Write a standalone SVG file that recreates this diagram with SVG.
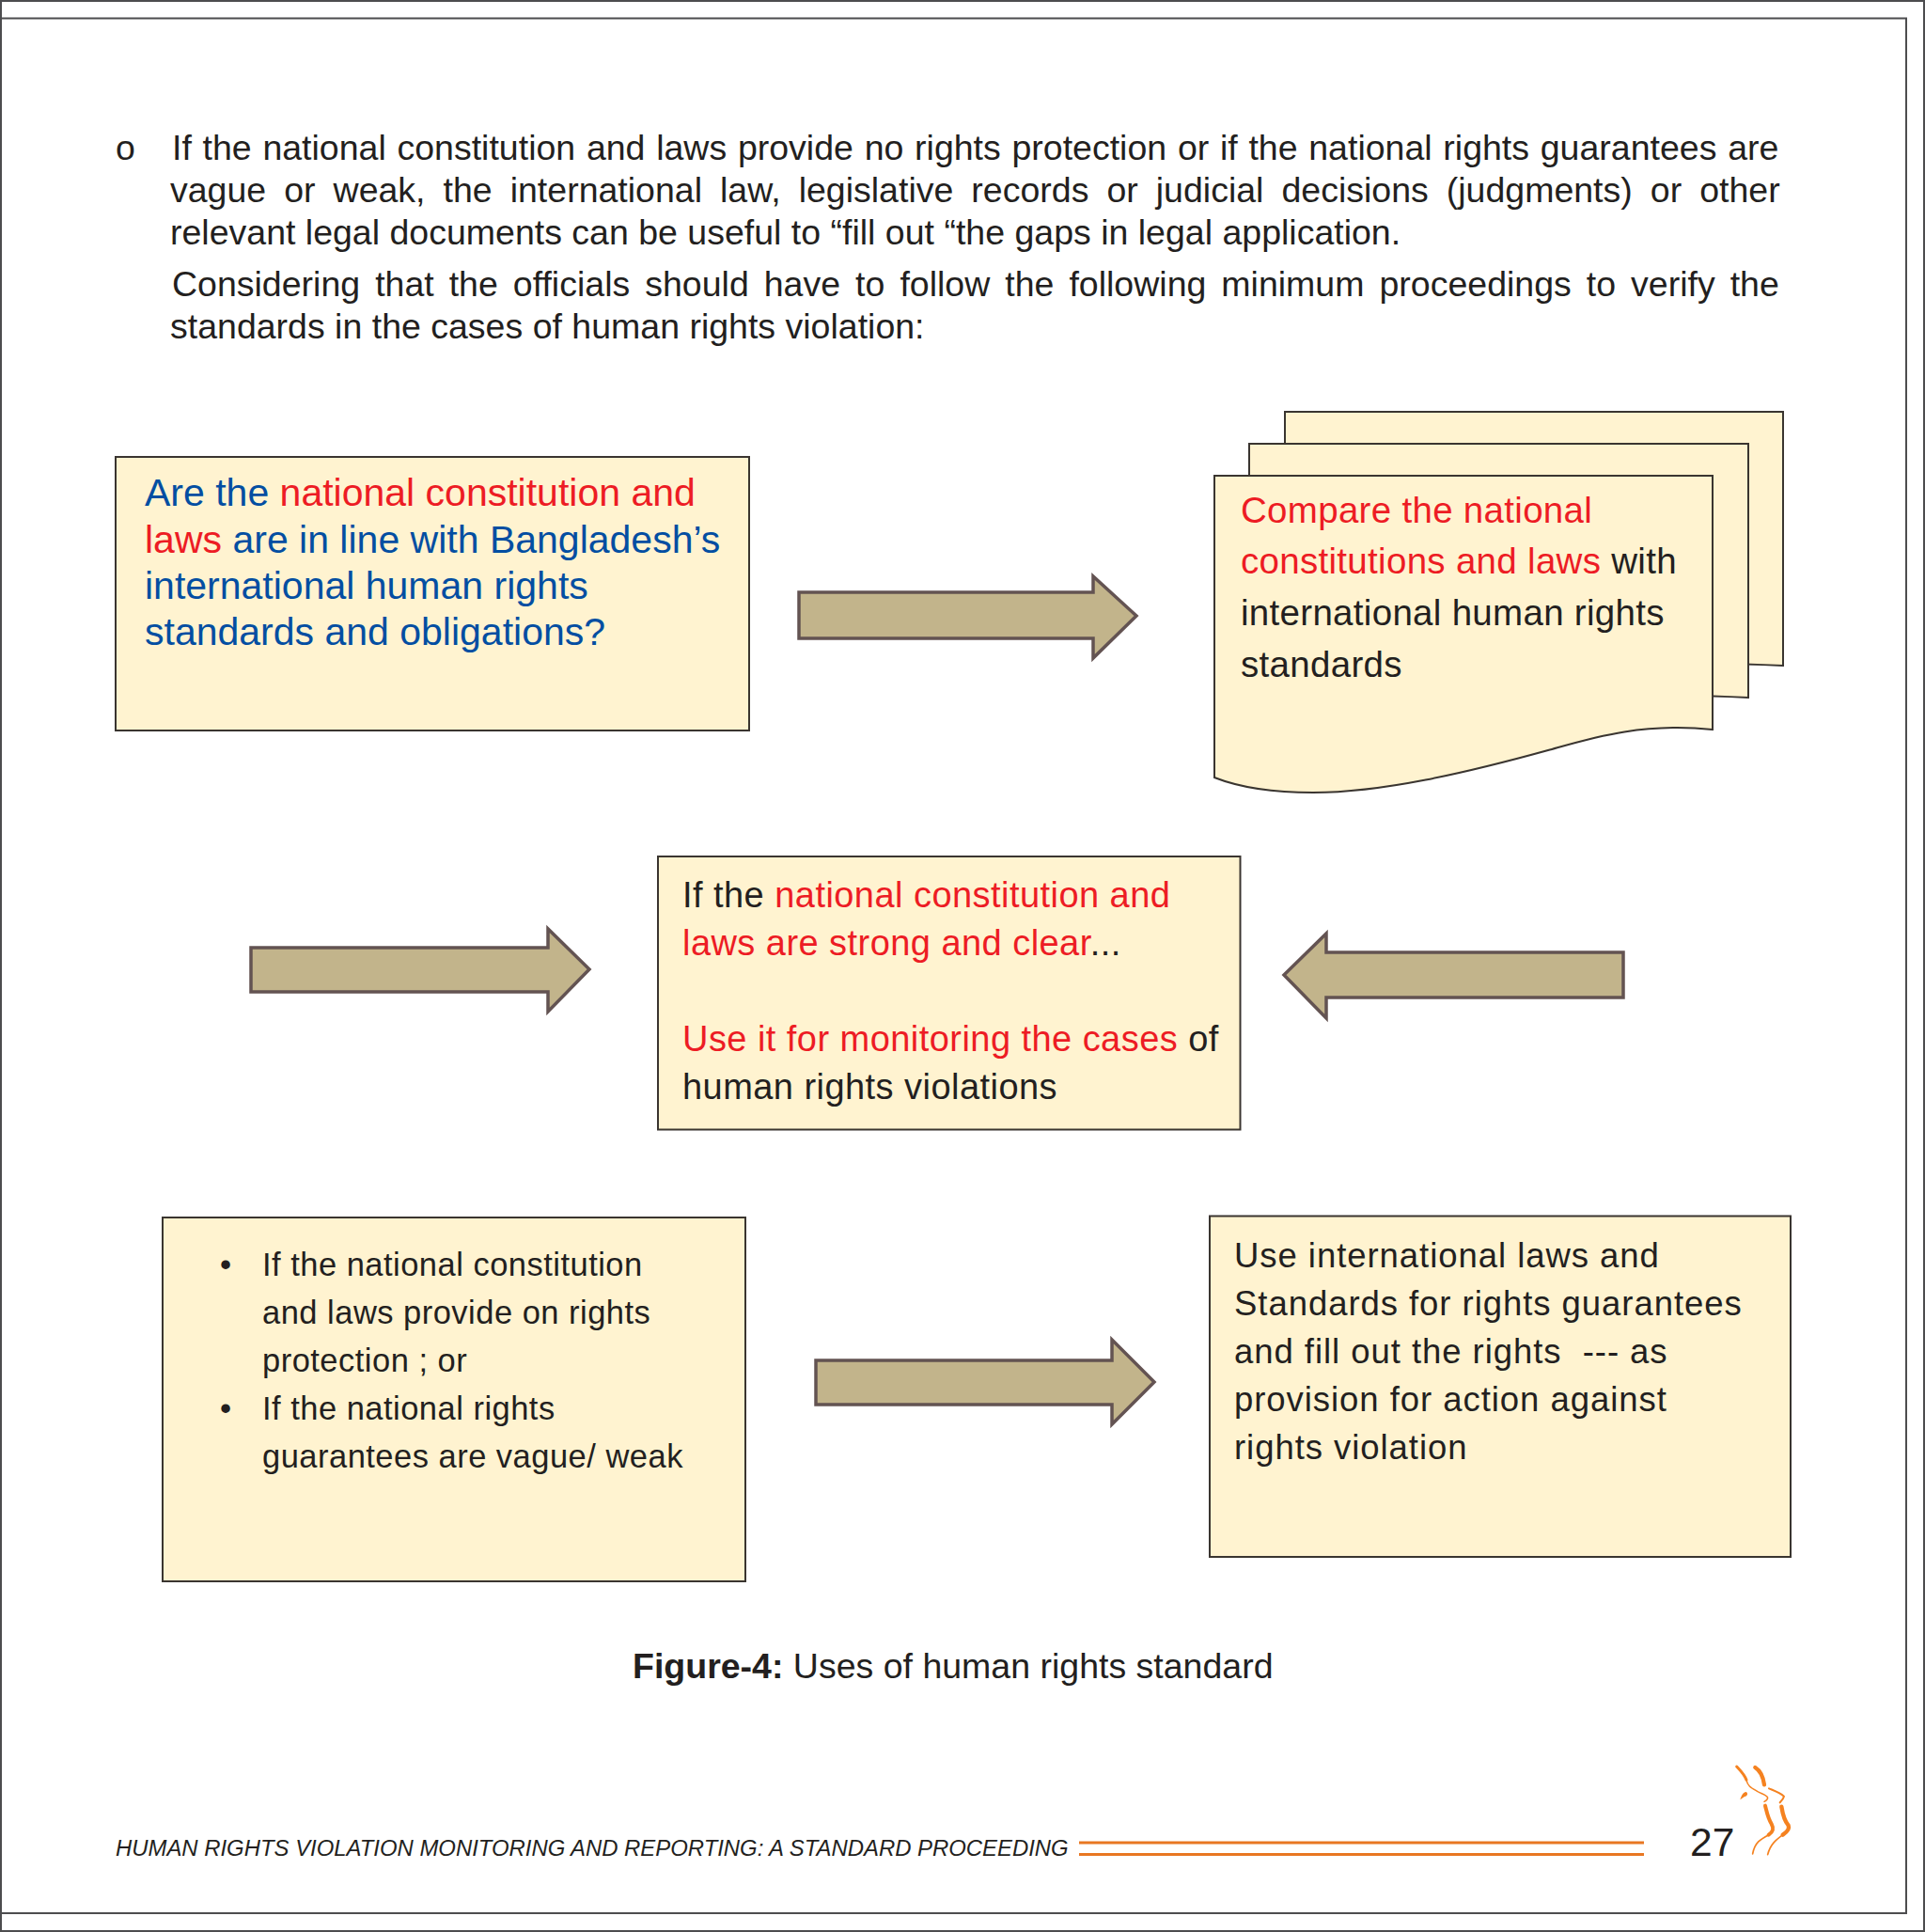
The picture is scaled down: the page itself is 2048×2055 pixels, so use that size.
<svg xmlns="http://www.w3.org/2000/svg" width="2048" height="2055" viewBox="0 0 2048 2055">
<style>
text{font-family:"Liberation Sans",Arial,sans-serif;fill:#231f20}
.b{font-size:37.500px}
.t1{font-size:41px}
.s{font-size:38.500px;letter-spacing:.3px}
.c{font-size:38px;letter-spacing:.45px}
.m{font-size:36.500px;letter-spacing:.95px}
.w{font-size:34.500px;letter-spacing:.48px}
.k{fill:#231f20}.r{fill:#ed1c24}.u{fill:#034ea2}
.box{fill:#fff3d0;stroke:#3a3530;stroke-width:2}
.arr{fill:#c2b48b;stroke:#635352;stroke-width:3.500}
.frame{fill:none;stroke:#4d4d4f;stroke-width:2}
.logo{fill:none;stroke:#f58220;stroke-linecap:round;stroke-linejoin:round}
</style>
<rect width="2048" height="2055" fill="#fff"/>
<g id="page-frame">
<path class="frame" d="M1 1H2047V2054H1Z"/>
<path class="frame" d="M0 19.500H2028V2035H0"/>
</g>
<g id="intro-text">
<text class="b" x="123" y="170">o</text>
<text class="b" x="183" y="170" word-spacing="1.3">If the national constitution and laws provide no rights protection or if the national rights guarantees are</text>
<text class="b" x="181" y="215" word-spacing="8.600">vague or weak, the international law, legislative records or judicial decisions (judgments) or other</text>
<text class="b" x="181" y="260">relevant legal documents can be useful to “fill out “the gaps in legal application.</text>
<text class="b" x="183" y="315" word-spacing="5.600">Considering that the officials should have to follow the following minimum proceedings to verify the</text>
<text class="b" x="181" y="360">standards in the cases of human rights violation:</text>
</g>
<g id="connectors">
<path class="arr" d="M850 630H1163V613L1209 655L1163 700V679H850Z"/>
<path class="arr" d="M267 1008H583V988L627 1031L583 1076V1055H267Z"/>
<path class="arr" d="M1727 1013H1411V993L1366 1037L1411 1083V1061H1727Z"/>
<path class="arr" d="M868 1447H1183V1425L1228 1470L1183 1515V1494H868Z"/>
</g>
<g id="node-question">
<rect class="box" x="123" y="486" width="674" height="291"/>
<text class="t1" x="154" y="538"><tspan class="u">Are the </tspan><tspan class="r">national constitution and</tspan></text>
<text class="t1" x="154" y="588"><tspan class="r">laws </tspan><tspan class="u">are in line with Bangladesh’s</tspan></text>
<text class="t1" x="154" y="637" style="fill:#034ea2">international human rights</text>
<text class="t1" x="154" y="686" style="fill:#034ea2">standards and obligations?</text>
</g>
<g id="node-compare">
<path class="box" d="M1367 438H1897V708C1875 707 1850 706 1823 706H1367Z"/>
<path class="box" d="M1329 472H1860V742C1840 741 1820 740 1790 740H1329Z"/>
<path class="box" d="M1292 506H1822V776C1745 768 1690 786 1647 798C1560 822 1470 843 1397 843C1365 843 1325 840 1292 827Z"/>
<text class="s" x="1320" y="556"><tspan class="r">Compare the national</tspan></text>
<text class="s" x="1320" y="610"><tspan class="r">constitutions and laws </tspan><tspan class="k">with</tspan></text>
<text class="s" x="1320" y="665">international human rights</text>
<text class="s" x="1320" y="720">standards</text>
</g>
<g id="node-strong">
<rect class="box" x="700" y="911" width="619.500" height="290.500"/>
<text class="c" x="726" y="965"><tspan class="k">If the </tspan><tspan class="r">national constitution and</tspan></text>
<text class="c" x="726" y="1016"><tspan class="r">laws are strong and clear</tspan><tspan class="k">...</tspan></text>
<text class="c" x="726" y="1118"><tspan class="r">Use it for monitoring the cases </tspan><tspan class="k">of</tspan></text>
<text class="c" x="726" y="1169">human rights violations</text>
</g>
<g id="node-weak">
<rect class="box" x="173" y="1295" width="620" height="387"/>
<text class="w" x="234" y="1356.500">•</text>
<text class="w" x="279" y="1356.500">If the national constitution</text>
<text class="w" x="279" y="1408">and laws provide on rights</text>
<text class="w" x="279" y="1459">protection ; or</text>
<text class="w" x="234" y="1510">•</text>
<text class="w" x="279" y="1510">If the national rights</text>
<text class="w" x="279" y="1561">guarantees are vague/ weak</text>
</g>
<g id="node-international">
<rect class="box" x="1287" y="1293.500" width="618" height="362.500"/>
<text class="m" x="1313" y="1348">Use international laws and</text>
<text class="m" x="1313" y="1399">Standards for rights guarantees</text>
<text class="m" x="1313" y="1450" xml:space="preserve">and fill out the rights  --- as</text>
<text class="m" x="1313" y="1501">provision for action against</text>
<text class="m" x="1313" y="1552">rights violation</text>
</g>
<g id="caption">
<text class="b" x="673" y="1785"><tspan font-weight="700">Figure-4:</tspan> Uses of human rights standard</text>
</g>
<g id="footer">
<text x="123" y="1974" font-size="23.900" font-style="italic">HUMAN RIGHTS VIOLATION MONITORING AND REPORTING: A STANDARD PROCEEDING</text>
<path d="M1148 1960H1749M1148 1972.500H1749" fill="none" stroke="#e87722" stroke-width="3"/>
<text x="1798" y="1974" font-size="42.500">27</text>
<g transform="translate(1780 1850) scale(.3333)">
<path class="logo" stroke-width="9" d="M203 87C215 100 228 112 234 130"/>
<path class="logo" stroke-width="4.500" d="M234 130C238 150 250 155 270 167C285 175 298 178 302 186C302 192 297 196 291 199"/>
<path class="logo" stroke-width="13" d="M262 90C278 100 287 115 291 145"/>
<path class="logo" stroke-width="6" d="M306 157C325 165 340 170 354 182C352 190 347 196 341 202"/>
<path d="M214 193C218 180 224 168 233 168C240 172 238 182 228 183Z" fill="#f58220"/>
<path class="logo" stroke-width="12" d="M294 212C300 235 302 250 314 270C322 285 320 295 305 305"/>
<path class="logo" stroke-width="5" d="M305 305C280 318 260 330 254 366"/>
<path class="logo" stroke-width="13" d="M346 215C350 240 355 260 368 275C372 285 365 295 350 305"/>
<path class="logo" stroke-width="5" d="M350 305C330 320 310 335 302 368"/>
</g>
</g>
</svg>
